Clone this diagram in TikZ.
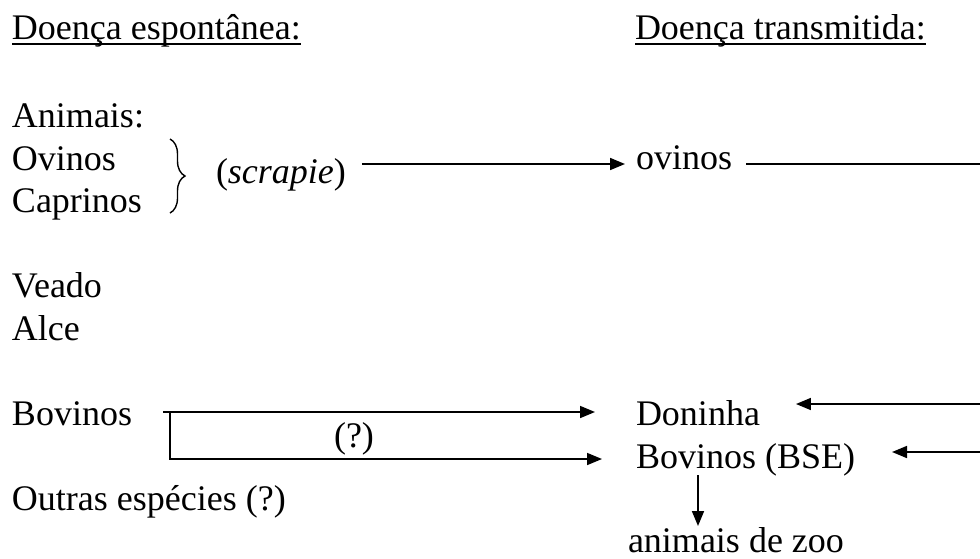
\documentclass[tikz,border=0pt]{standalone}
\usepackage{fontspec}
\setmainfont{Liberation Serif}
\usetikzlibrary{arrows.meta,calc,decorations.pathreplacing}
\begin{document}
\begin{tikzpicture}[x=1pt,y=-1pt,
  txt/.style={anchor=base west, inner sep=0pt, outer sep=0pt, font=\fontsize{36}{42}\selectfont},
  link/.style={line width=1.7pt},
  arr/.style={link, -{Triangle[length=15pt,width=12pt]}},
  uline/.style={line width=1.8pt},
  bracestyle/.style={line width=1.4pt, decorate, decoration={brace, amplitude=15pt}}]
\useasboundingbox (0,0) rectangle (980,558);

% column headings
\node[txt] (hesp) at (12,39) {Doença espontânea:};
\node[txt] (htr) at (635,39) {Doença transmitida:};
\draw[uline] ($(hesp.base west)+(0,5)$) -- ($(hesp.base east)+(0,5)$);
\draw[uline] ($(htr.base west)+(0,5)$) -- ($(htr.base east)+(0,5)$);

% spontaneous disease
\node[txt] (animais) at (12,127) {Animais:};
\node[txt] (ovinos) at (12,170) {Ovinos};
\node[txt] (caprinos) at (12,212) {Caprinos};
\node[txt] (veado) at (12,297) {Veado};
\node[txt] (alce) at (12,340) {Alce};
\node[txt] (bovL) at (12,425) {Bovinos};
\node[txt] (outras) at (12,510) {Outras espécies (?)};
\node[txt] (scrapie) at (216,183) {(\textit{scrapie})};
\node[txt, anchor=base] (q) at (354,447) {(?)};

% transmitted disease
\node[txt] (ovinosT) at (636,169) {ovinos};
\node[txt] (doninha) at (636,425) {Doninha};
\node[txt] (bse) at (636,468) {Bovinos (BSE)};
\node[txt] (zoo) at (628,552) {animais de zoo};

% brace grouping sheep and goats
\draw[bracestyle] (170,139) -- (170,213);

% free ends at the right margin
\coordinate (edgeO) at (980,164);
\coordinate (edgeD) at (980,404);
\coordinate (edgeB) at (980,452);

% connectors
\draw[arr] ($(scrapie.base east)+(16,-19)$) -- ($(ovinosT.base west)+(-11,-5)$);
\draw[link] ($(ovinosT.base east)+(14,-5)$) -- (edgeO);
\draw[arr] ($(bovL.base east)+(31,-13)$) -- ($(doninha.base west)+(-41,-13)$);
\draw[arr] ($(bovL.base east)+(38,-13)$) |- ($(bse.base west)+(-34,-9)$);
\draw[arr] (edgeD) -- ($(doninha.base east)+(36,-21)$);
\draw[arr] (edgeB) -- ($(bse.base east)+(37,-16)$);
\draw[arr] ($(bse.base west)+(62,7)$) -- ($(zoo.base west)+(70,-26)$);
\end{tikzpicture}
\end{document}
